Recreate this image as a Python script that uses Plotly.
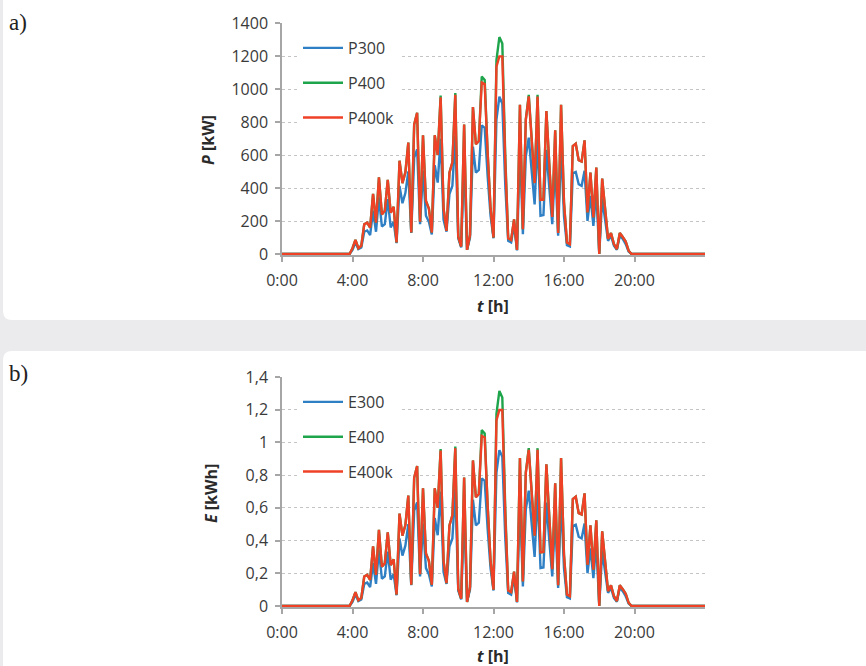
import plotly.graph_objects as go

W, H = 866, 666

# time axis: 10-minute steps, 0:00 .. 24:00 (hours)
hours = [i / 6 for i in range(145)]
tick_hours = [0, 4, 8, 12, 16, 20]
tick_labels = ["0:00", "4:00", "8:00", "12:00", "16:00", "20:00"]
p_ticks = [0, 200, 400, 600, 800, 1000, 1200, 1400]
p_ticklabels = ["0", "200", "400", "600", "800", "1000", "1200", "1400"]
e_ticks = [0, 0.2, 0.4, 0.6, 0.8, 1.0, 1.2, 1.4]
e_ticklabels = ["0", "0,2", "0,4", "0,6", "0,8", "1", "1,2", "1,4"]

# panel a) power [kW]
P300 = [0, 0, 0, 0, 0, 0, 0, 0, 0, 0, 0, 0, 0, 0, 0, 0, 0, 0, 0, 0, 0, 0, 0, 0,
        25, 70, 30, 40, 135, 143, 115, 262, 135, 342,
        167, 181, 332, 161, 195, 66, 413, 308, 369, 500,
        127, 584, 634, 181, 504, 232, 195, 119, 538, 433,
        699, 207, 135, 363, 413, 715, 95, 40, 575, 26,
        100, 650, 493, 510, 780, 765, 473, 232, 95, 815,
        953, 912, 420, 80, 70, 175, 22, 660, 120, 590,
        705, 520, 300, 700, 232, 236, 632, 400, 181, 547,
        111, 660, 230, 54, 46, 489, 497, 423, 413, 504,
        201, 352, 171, 380, 0, 335, 195, 80, 111, 50,
        26, 111, 91, 60, 15, 0,
        0, 0, 0, 0, 0, 0, 0, 0, 0, 0, 0, 0, 0, 0, 0, 0, 0, 0, 0, 0, 0, 0, 0, 0, 0]
P400 = [0, 0, 0, 0, 0, 0, 0, 0, 0, 0, 0, 0, 0, 0, 0, 0, 0, 0, 0, 0, 0, 0, 0, 0,
        35, 85, 35, 50, 180, 190, 160, 365, 190, 465,
        240, 262, 450, 250, 286, 70, 565, 430, 495, 675,
        130, 785, 856, 195, 720, 322, 276, 130, 720, 600,
        960, 276, 140, 493, 555, 975, 105, 45, 785, 25,
        115, 890, 665, 685, 1075, 1055, 615, 276, 100, 1175,
        1315, 1275, 600, 95, 85, 210, 25, 905, 150, 815,
        965, 700, 430, 965, 328, 330, 866, 544, 225, 750,
        127, 904, 312, 70, 60, 654, 668, 568, 560, 689,
        252, 493, 222, 524, 0, 457, 262, 91, 127, 60,
        30, 127, 103, 75, 20, 0,
        0, 0, 0, 0, 0, 0, 0, 0, 0, 0, 0, 0, 0, 0, 0, 0, 0, 0, 0, 0, 0, 0, 0, 0, 0]
P400k = [0, 0, 0, 0, 0, 0, 0, 0, 0, 0, 0, 0, 0, 0, 0, 0, 0, 0, 0, 0, 0, 0, 0, 0,
         35, 85, 35, 50, 180, 190, 160, 365, 190, 465,
         240, 262, 450, 250, 286, 70, 565, 430, 495, 675,
         130, 785, 856, 195, 720, 322, 276, 130, 720, 600,
         950, 276, 140, 493, 555, 965, 105, 45, 785, 25,
         115, 890, 665, 685, 1040, 1030, 615, 276, 100, 1135,
         1198, 1198, 560, 95, 85, 210, 25, 905, 150, 815,
         955, 700, 430, 955, 328, 330, 866, 544, 225, 750,
         127, 904, 312, 70, 60, 654, 668, 568, 560, 689,
         252, 493, 222, 524, 0, 457, 262, 91, 127, 60,
         30, 127, 103, 75, 20, 0,
         0, 0, 0, 0, 0, 0, 0, 0, 0, 0, 0, 0, 0, 0, 0, 0, 0, 0, 0, 0, 0, 0, 0, 0, 0]

# panel b) energy [kWh]
E300 = [0, 0, 0, 0, 0, 0, 0, 0, 0, 0, 0, 0, 0, 0, 0, 0, 0, 0, 0, 0, 0, 0, 0, 0,
        0.025, 0.070, 0.030, 0.040, 0.135, 0.143, 0.115, 0.262, 0.135, 0.342,
        0.167, 0.181, 0.332, 0.161, 0.195, 0.066, 0.413, 0.308, 0.369, 0.500,
        0.127, 0.584, 0.634, 0.181, 0.504, 0.232, 0.195, 0.119, 0.538, 0.433,
        0.699, 0.207, 0.135, 0.363, 0.413, 0.715, 0.095, 0.040, 0.575, 0.026,
        0.100, 0.650, 0.493, 0.510, 0.780, 0.765, 0.473, 0.232, 0.095, 0.815,
        0.953, 0.912, 0.420, 0.080, 0.070, 0.175, 0.022, 0.660, 0.120, 0.590,
        0.705, 0.520, 0.300, 0.700, 0.232, 0.236, 0.632, 0.400, 0.181, 0.547,
        0.111, 0.660, 0.230, 0.054, 0.046, 0.489, 0.497, 0.423, 0.413, 0.504,
        0.201, 0.352, 0.171, 0.380, 0.000, 0.335, 0.195, 0.080, 0.111, 0.050,
        0.026, 0.111, 0.091, 0.060, 0.015, 0.000,
        0, 0, 0, 0, 0, 0, 0, 0, 0, 0, 0, 0, 0, 0, 0, 0, 0, 0, 0, 0, 0, 0, 0, 0, 0]
E400 = [0, 0, 0, 0, 0, 0, 0, 0, 0, 0, 0, 0, 0, 0, 0, 0, 0, 0, 0, 0, 0, 0, 0, 0,
        0.035, 0.085, 0.035, 0.050, 0.180, 0.190, 0.160, 0.365, 0.190, 0.465,
        0.240, 0.262, 0.450, 0.250, 0.286, 0.070, 0.565, 0.430, 0.495, 0.675,
        0.130, 0.785, 0.856, 0.195, 0.720, 0.322, 0.276, 0.130, 0.720, 0.600,
        0.960, 0.276, 0.140, 0.493, 0.555, 0.975, 0.105, 0.045, 0.785, 0.025,
        0.115, 0.890, 0.665, 0.685, 1.075, 1.055, 0.615, 0.276, 0.100, 1.175,
        1.315, 1.275, 0.600, 0.095, 0.085, 0.210, 0.025, 0.905, 0.150, 0.815,
        0.965, 0.700, 0.430, 0.965, 0.328, 0.330, 0.866, 0.544, 0.225, 0.750,
        0.127, 0.904, 0.312, 0.070, 0.060, 0.654, 0.668, 0.568, 0.560, 0.689,
        0.252, 0.493, 0.222, 0.524, 0.000, 0.457, 0.262, 0.091, 0.127, 0.060,
        0.030, 0.127, 0.103, 0.075, 0.020, 0.000,
        0, 0, 0, 0, 0, 0, 0, 0, 0, 0, 0, 0, 0, 0, 0, 0, 0, 0, 0, 0, 0, 0, 0, 0, 0]
E400k = [0, 0, 0, 0, 0, 0, 0, 0, 0, 0, 0, 0, 0, 0, 0, 0, 0, 0, 0, 0, 0, 0, 0, 0,
         0.035, 0.085, 0.035, 0.050, 0.180, 0.190, 0.160, 0.365, 0.190, 0.465,
         0.240, 0.262, 0.450, 0.250, 0.286, 0.070, 0.565, 0.430, 0.495, 0.675,
         0.130, 0.785, 0.856, 0.195, 0.720, 0.322, 0.276, 0.130, 0.720, 0.600,
         0.950, 0.276, 0.140, 0.493, 0.555, 0.965, 0.105, 0.045, 0.785, 0.025,
         0.115, 0.890, 0.665, 0.685, 1.040, 1.030, 0.615, 0.276, 0.100, 1.135,
         1.198, 1.198, 0.560, 0.095, 0.085, 0.210, 0.025, 0.905, 0.150, 0.815,
         0.955, 0.700, 0.430, 0.955, 0.328, 0.330, 0.866, 0.544, 0.225, 0.750,
         0.127, 0.904, 0.312, 0.070, 0.060, 0.654, 0.668, 0.568, 0.560, 0.689,
         0.252, 0.493, 0.222, 0.524, 0.000, 0.457, 0.262, 0.091, 0.127, 0.060,
         0.030, 0.127, 0.103, 0.075, 0.020, 0.000,
         0, 0, 0, 0, 0, 0, 0, 0, 0, 0, 0, 0, 0, 0, 0, 0, 0, 0, 0, 0, 0, 0, 0, 0, 0]

BLUE, GREEN, RED = "#2f7fc4", "#1ea54c", "#ef4126"
AX = "#a6a6a6"
GRID = "#c4c4c4"
TXT = "#3a3a3a"
FONT = "Open Sans"


def px(x):
    return x / W


def py(y):
    return 1 - y / H


fig = go.Figure()

for name, ys, col in [("P300", P300, BLUE), ("P400", P400, GREEN), ("P400k", P400k, RED)]:
    fig.add_trace(go.Scatter(x=hours, y=ys, mode="lines", name=name, legendgroup=name,
                             line=dict(color=col, width=2.4), xaxis="x", yaxis="y",
                             legend="legend"))
for name, ys, col in [("E300", E300, BLUE), ("E400", E400, GREEN), ("E400k", E400k, RED)]:
    fig.add_trace(go.Scatter(x=hours, y=ys, mode="lines", name=name, legendgroup=name,
                             line=dict(color=col, width=2.4), xaxis="x2", yaxis="y2",
                             legend="legend2"))

xdom = [px(282), px(705)]
common_x = dict(domain=xdom, range=[0, 24], tickvals=tick_hours, ticktext=tick_labels,
                showline=True, linecolor=AX, linewidth=1.5, ticks="outside", ticklen=5,
                tickcolor=AX, tickwidth=1.5, showgrid=False, zeroline=False, automargin=False,
                tickfont=dict(family=FONT, size=16, color=TXT), ticklabelstandoff=5)
common_y = dict(showline=True, linecolor=AX, linewidth=1.5, ticks="outside", ticklen=5,
                tickcolor=AX, tickwidth=1.5, showgrid=True, gridcolor=GRID, griddash="dot",
                gridwidth=1, zeroline=False, automargin=False,
                tickfont=dict(family=FONT, size=16, color=TXT), ticklabelstandoff=4)

fig.update_layout(
    width=W, height=H,
    margin=dict(l=0, r=0, t=0, b=0, pad=0, autoexpand=False),
    paper_bgcolor="#ebebed",
    plot_bgcolor="rgba(0,0,0,0)",
    showlegend=True,
    xaxis=dict(anchor="y", **common_x),
    yaxis=dict(anchor="x", domain=[py(255), py(23)], range=[-6, 1400],
               tickvals=p_ticks, ticktext=p_ticklabels, **common_y),
    xaxis2=dict(anchor="y2", **common_x),
    yaxis2=dict(anchor="x2", domain=[py(607), py(377)], range=[-0.006, 1.4],
                tickvals=e_ticks, ticktext=e_ticklabels, **common_y),
    legend=dict(x=px(298), y=py(31), xanchor="left", yanchor="top", bgcolor="white",
                font=dict(family=FONT, size=16, color=TXT), traceorder="grouped",
                tracegroupgap=11, itemwidth=40),
    legend2=dict(x=px(298), y=py(385), xanchor="left", yanchor="top", bgcolor="white",
                 font=dict(family=FONT, size=16, color=TXT), traceorder="grouped",
                 tracegroupgap=11, itemwidth=40),
)


def panel_path(top, bottom, round_top, round_bottom, left=3, right=866, r=9):
    parts = []
    if round_top:
        parts.append(f"M {px(left)},{py(top + r)} Q {px(left)},{py(top)} {px(left + r)},{py(top)}")
    else:
        parts.append(f"M {px(left)},{py(top)}")
    parts.append(f"L {px(right)},{py(top)} L {px(right)},{py(bottom)}")
    if round_bottom:
        parts.append(f"L {px(left + r)},{py(bottom)} Q {px(left)},{py(bottom)} {px(left)},{py(bottom - r)}")
    else:
        parts.append(f"L {px(left)},{py(bottom)}")
    parts.append("Z")
    return " ".join(parts)


fig.add_shape(type="path", xref="paper", yref="paper", path=panel_path(0, 320, False, True),
              fillcolor="white", line=dict(width=0), layer="below")
fig.add_shape(type="path", xref="paper", yref="paper", path=panel_path(351, 666, True, False),
              fillcolor="white", line=dict(width=0), layer="below")

ann_font_b = dict(family=FONT, size=16, color="#2a2a2a")
fig.add_annotation(x=px(7), y=py(22), xref="paper", yref="paper", text="a)", showarrow=False,
                   xanchor="left", yanchor="middle",
                   font=dict(family="Liberation Serif", size=23, color="#222"))
fig.add_annotation(x=px(7), y=py(373), xref="paper", yref="paper", text="b)", showarrow=False,
                   xanchor="left", yanchor="middle",
                   font=dict(family="Liberation Serif", size=23, color="#222"))
fig.add_annotation(x=px(208), y=py(140), xref="paper", yref="paper",
                   text="<b><i>P</i> [kW]</b>", showarrow=False, textangle=-90,
                   xanchor="center", yanchor="middle", font=ann_font_b)
fig.add_annotation(x=px(211), y=py(494), xref="paper", yref="paper",
                   text="<b><i>E</i> [kWh]</b>", showarrow=False, textangle=-90,
                   xanchor="center", yanchor="middle", font=ann_font_b)
fig.add_annotation(x=px(493), y=py(306), xref="paper", yref="paper",
                   text="<b><i>t</i> [h]</b>", showarrow=False,
                   xanchor="center", yanchor="middle", font=ann_font_b)
fig.add_annotation(x=px(493), y=py(656), xref="paper", yref="paper",
                   text="<b><i>t</i> [h]</b>", showarrow=False,
                   xanchor="center", yanchor="middle", font=ann_font_b)

fig.write_html("out.html", config={"displayModeBar": False},
               post_script="document.body.style.margin='0px';"
                           "document.body.style.overflow='hidden';")
